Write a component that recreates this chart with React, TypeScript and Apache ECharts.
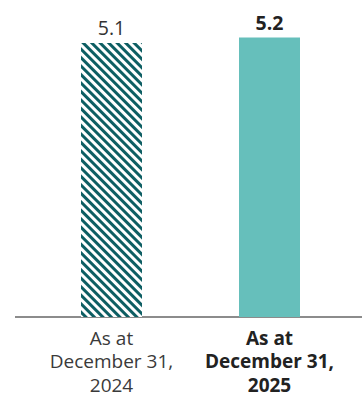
import React, { useEffect, useRef } from "react";
import * as echarts from "echarts";

const categories = ["As at\nDecember 31,\n2024", "As at\nDecember 31,\n2025"];
const values = [5.1, 5.2];

export default function App() {
  const ref = useRef<HTMLDivElement>(null);
  useEffect(() => {
    const chart = echarts.init(ref.current!, null, { renderer: "svg" });
    const font = "'Open Sans', 'Noto Sans', sans-serif";
    chart.setOption({
      animation: false,
      grid: { left: 32.5, right: 13.5, top: 0, bottom: 80 },
      xAxis: {
        type: "category",
        data: categories,
        axisLine: { show: false },
        axisTick: { show: false },
        axisLabel: {
          interval: 0,
          margin: 9,
          fontFamily: font,
          fontSize: 19,
          lineHeight: 23.5,
          color: "#3a3a3a",
          formatter: (v: string, i: number) =>
            i === 1 ? v.split("\n").map((s) => `{b|${s}}`).join("\n") : v,
          rich: {
            b: { fontFamily: font, fontSize: 19, lineHeight: 23.5, fontWeight: "bold", color: "#222" },
          },
        },
      },
      yAxis: { type: "value", min: 0, max: 5.9, show: false },
      series: [
        {
          type: "bar",
          barWidth: 61,
          data: values.map((v, i) =>
            i === 0
              ? {
                  value: v,
                  itemStyle: {
                    color: "#ffffff",
                    decal: {
                      symbol: "rect",
                      color: "#0d5e63",
                      backgroundColor: "#ffffff",
                      dashArrayX: [1, 0],
                      dashArrayY: [2.4, 2.6],
                      rotation: Math.PI / 4,
                    },
                  },
                  label: { fontWeight: "normal", color: "#333" },
                }
              : {
                  value: v,
                  itemStyle: { color: "#66bfbb" },
                  label: { fontWeight: "bold", color: "#222" },
                }
          ),
          label: {
            show: true,
            position: "top",
            distance: 5,
            fontFamily: font,
            fontSize: 19.5,
            formatter: (p: any) => p.value.toFixed(1),
          },
        },
      ],
      graphic: [
        {
          type: "line",
          shape: { x1: 15, y1: 317, x2: 362, y2: 317 },
          style: { stroke: "#666", lineWidth: 1.5 },
        },
      ],
    });
    return () => chart.dispose();
  }, []);
  return <div ref={ref} style={{ width: 362, height: 397, position: "absolute", left: 0, top: 0 }} />;
}
